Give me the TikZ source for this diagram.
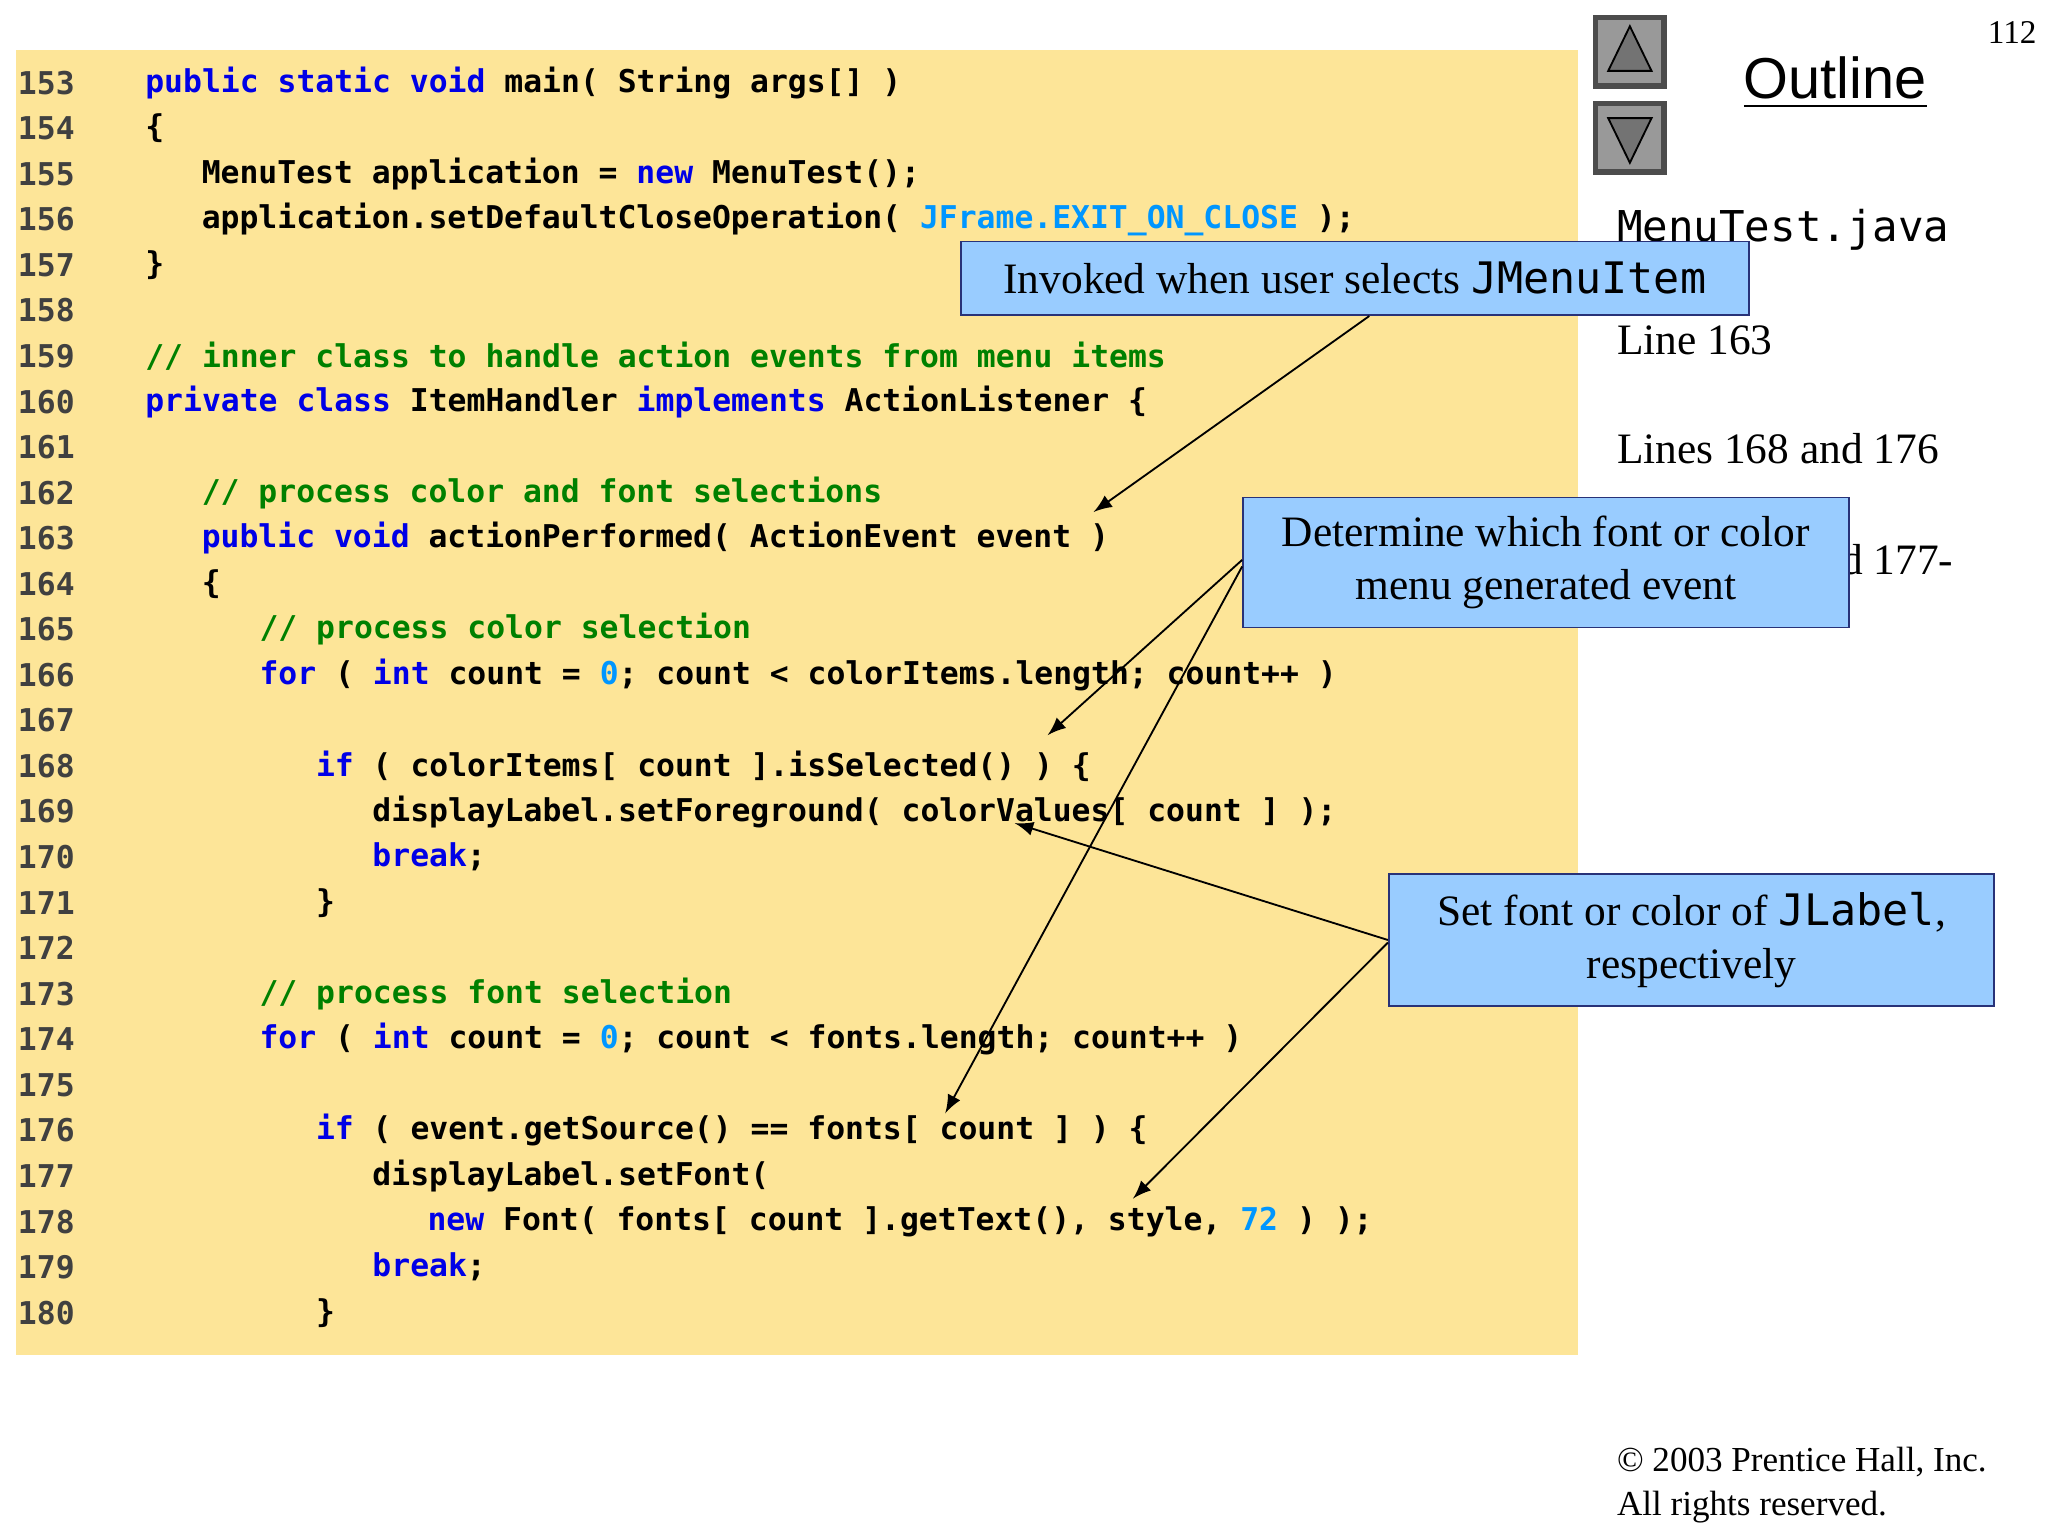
\documentclass[tikz,border=0pt]{standalone}
\usepackage{fontspec}
\setmainfont{Liberation Serif}
\setmonofont{DejaVu Sans Mono}
\newfontfamily\outfont{Liberation Sans}
\usetikzlibrary{positioning}
\definecolor{codebg}{RGB}{253,229,152}
\definecolor{kwblue}{RGB}{0,0,230}
\definecolor{cmgreen}{RGB}{0,128,0}
\definecolor{cnblue}{RGB}{0,150,255}
\definecolor{callfill}{RGB}{153,204,255}
\definecolor{callline}{RGB}{40,50,120}
\newcommand{\kw}[1]{\textcolor{kwblue}{#1}}
\newcommand{\cm}[1]{\textcolor{cmgreen}{#1}}
\newcommand{\cn}[1]{\textcolor{cnblue}{#1}}
\tikzset{
  code/.style={anchor=west,inner sep=0pt,font=\fontsize{6.8}{8}\selectfont\ttfamily\bfseries},
  lnum/.style={code,text=black!75},
  callout/.style={draw=callline,fill=callfill,inner sep=0pt,align=center,font=\fontsize{9.4}{11.5}\selectfont},
  side/.style={anchor=west,inner sep=0pt,font=\fontsize{9.4}{11}\selectfont},
  pointer/.style={-latex,thin}
}
\begin{document}
\begin{tikzpicture}[x=0.01cm,y=-0.01cm]
\useasboundingbox (0,0) rectangle (1560,1170);
\fill[codebg] (12,38) rectangle (1202,1032);
% line numbers
\foreach \n [count=\i from 0] in {153,...,180}
  \node[lnum] at (13,63+34.7*\i) {\n};
% code
\node[code] (c153) at (110,63) {\kw{public static void} main( String args[] )};
\node[code] (c154) at (110,97.7) {\{};
\node[code] (c155) at (153,132.4) {MenuTest application = \kw{new} MenuTest();};
\node[code] (c156) at (153,167.1) {application.setDefaultCloseOperation( \cn{JFrame.EXIT\_ON\_CLOSE} );};
\node[code] (c157) at (110,201.8) {\}};
\node[code] (c159) at (110,271.2) {\cm{// inner class to handle action events from menu items}};
\node[code] (c160) at (110,305.9) {\kw{private class} ItemHandler \kw{implements} ActionListener \{};
\node[code] (c162) at (153,375.3) {\cm{// process color and font selections}};
\node[code] (c163) at (153,410) {\kw{public void} actionPerformed( ActionEvent event )};
\node[code] (c164) at (153,444.7) {\{};
\node[code] (c165) at (197,479.4) {\cm{// process color selection}};
\node[code] (c166) at (197,514.1) {\kw{for} ( \kw{int} count = \cn{0}; count < colorItems.length; count++ )};
\node[code] (c168) at (240,583.5) {\kw{if} ( colorItems[ count ].isSelected() ) \{};
\node[code] (c169) at (283,618.2) {displayLabel.setForeground( colorValues[ count ] );};
\node[code] (c170) at (283,652.9) {\kw{break};};
\node[code] (c171) at (240,687.6) {\}};
\node[code] (c173) at (197,757) {\cm{// process font selection}};
\node[code] (c174) at (197,791.7) {\kw{for} ( \kw{int} count = \cn{0}; count < fonts.length; count++ )};
\node[code] (c176) at (240,861.1) {\kw{if} ( event.getSource() == fonts[ count ] ) \{};
\node[code] (c177) at (283,895.8) {displayLabel.setFont(};
\node[code] (c178) at (325,930.5) {\kw{new} Font( fonts[ count ].getText(), style, \cn{72} ) );};
\node[code] (c179) at (283,965.2) {\kw{break};};
\node[code] (c180) at (240,999.9) {\}};
% side panel
\node[draw=black!70,fill=black!40,line width=1.2pt,minimum size=0.52cm,inner sep=0pt] (up) at (1241.5,39.5) {};
\node[draw=black!70,fill=black!40,line width=1.2pt,minimum size=0.52cm,inner sep=0pt] (down) at (1241.5,105) {};
\fill[black!55,draw=black] (1241.5,20) -- (1258,54) -- (1225,54) -- cycle;
\fill[black!55,draw=black] (1241.5,124) -- (1258,90) -- (1225,90) -- cycle;
\node[font=\outfont\fontsize{12.5}{14}\selectfont,inner sep=0pt] (outline) at (1398,63) {\underline{Outline}};
\node[anchor=north east,inner sep=0pt,font=\fontsize{7.2}{8}\selectfont] (page) at (1552,16) {112};
\node[anchor=west,inner sep=0pt,font=\fontsize{9.2}{11}\selectfont\ttfamily] (file) at (1231,175) {MenuTest.java};
\node[side] (l163) at (1231,259) {Line 163};
\node[side] (l168) at (1231,342) {Lines 168 and 176};
\node[side] (l169) at (1231,426) {Lines 169 and 177-};
\node[anchor=west,inner sep=0pt,font=\fontsize{7.6}{9.5}\selectfont,align=left] (copy) at (1231,1131) {\textcopyright{} 2003 Prentice Hall, Inc.\\All rights reserved.};
% callouts
\node[callout,minimum width=6cm,minimum height=0.56cm] (invoked) at (1032,212) {Invoked when user selects \texttt{JMenuItem}};
\node[callout,minimum width=4.61cm,minimum height=0.99cm] (which) at (1177.5,428.5) {Determine which font or color\\menu generated event};
\node[callout,minimum width=4.61cm,minimum height=1cm] (setfont) at (1288.5,716) {Set font or color of \texttt{JLabel},\\respectively};
\coordinate (a163) at (833,390);
\coordinate (a168) at (798,560);
\coordinate (a176) at (720,848);
\coordinate (a169) at (773,627);
\coordinate (a178) at (863,913);
\draw[pointer] (invoked.south) ++(11,0) -- (a163);
\draw[pointer] (which.west) ++(0,-2) -- (a168);
\draw[pointer] (which.west) ++(0,3) -- (a176);
\draw[pointer] (setfont.west) -- (a169);
\draw[pointer] (setfont.west) ++(0,2) -- (a178);
\end{tikzpicture}
\end{document}
